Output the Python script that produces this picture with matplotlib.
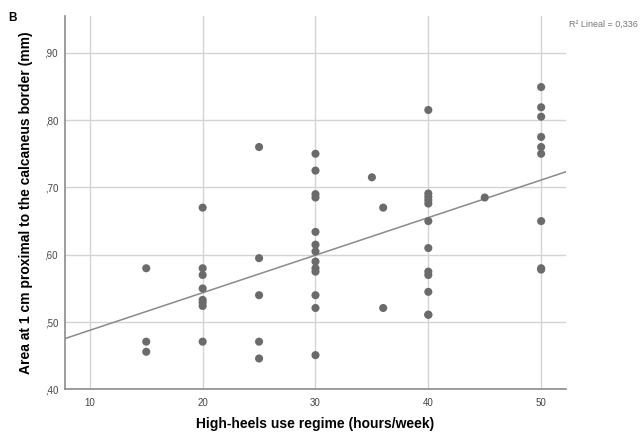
import numpy as np
import matplotlib
matplotlib.use("Agg")
import matplotlib.pyplot as plt

plt.rcParams["font.family"] = ["Liberation Sans", "DejaVu Sans"]

# horas/semana de uso de tacon e area (mm)
horas = [15, 15, 15,
         20, 20, 20, 20, 20, 20, 20, 20,
         25, 25, 25, 25, 25,
         30, 30, 30, 30, 30, 30, 30, 30, 30, 30, 30, 30, 30,
         35, 36, 36,
         40, 40, 40, 40, 40, 40, 40, 40, 40, 40, 40, 40,
         45,
         50, 50, 50, 50, 50, 50, 50, 50, 50]
area = [0.58, 0.471, 0.456,
        0.670, 0.580, 0.570, 0.550, 0.533, 0.529, 0.524, 0.471,
        0.760, 0.595, 0.540, 0.471, 0.446,
        0.750, 0.725, 0.690, 0.685, 0.634, 0.615, 0.605, 0.590, 0.580, 0.575, 0.540, 0.521, 0.451,
        0.715, 0.670, 0.521,
        0.815, 0.691, 0.686, 0.681, 0.676, 0.650, 0.610, 0.575, 0.570, 0.545, 0.511, 0.511,
        0.685,
        0.849, 0.819, 0.805, 0.775, 0.760, 0.750, 0.650, 0.580, 0.578]

xticks = [10, 20, 30, 40, 50]
yticks = [0.40, 0.50, 0.60, 0.70, 0.80, 0.90]
ytick_labels = [",40", ",50", ",60", ",70", ",80", ",90"]
r2_text = "R² Lineal = 0,336"

fig = plt.figure(figsize=(6.43, 4.33), dpi=100)
ax = fig.add_axes([0.1011, 0.1005, 0.7791, 0.8625])

ax.set_xlim(7.8, 52.2)
ax.set_ylim(0.40, 0.9545)

ax.set_xticks(xticks)
ax.set_yticks(yticks)
ax.set_yticklabels(ytick_labels)
ax.grid(True, color="#d4d4d4", linewidth=1.0)
ax.set_axisbelow(True)

ax.scatter(horas, area, s=34, color="#6b6b6b", edgecolors="none", zorder=3)

# linha de regressao
m, b = np.polyfit(horas, area, 1)
xl = np.array([7.8, 52.2])
ax.plot(xl, m * xl + b, color="#8a8a8a", linewidth=1.1, zorder=2)

for s in ["top", "right"]:
    ax.spines[s].set_visible(False)
for s in ["left", "bottom"]:
    ax.spines[s].set_color("#8c8c8c")
    ax.spines[s].set_linewidth(1.2)

ax.tick_params(axis="both", labelsize=7, colors="#444444", length=0, pad=6)
ax.tick_params(axis="y", pad=5)

ax.set_xlabel("High-heels use regime (hours/week)", fontsize=10, fontweight="bold")
ax.set_ylabel("Area at 1 cm proximal to the calcaneus border (mm)", fontsize=10,
              fontweight="bold")
ax.xaxis.set_label_coords(0.5, -0.075)
ax.yaxis.set_label_coords(-0.064, 0.5)

fig.text(0.013, 0.958, "B", fontsize=8.5, fontweight="bold", va="center")
fig.text(0.885, 0.944, r2_text, fontsize=6.5, color="#777777", va="center")

fig.savefig("out.png", dpi=100)
